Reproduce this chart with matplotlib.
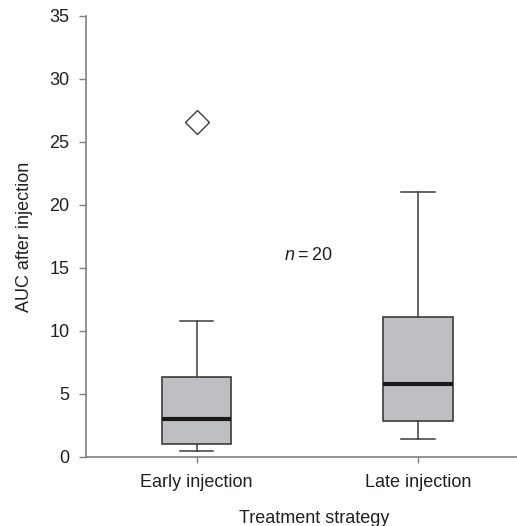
import matplotlib
matplotlib.use('Agg')
import matplotlib.pyplot as plt

plt.rcParams['font.family'] = ['Liberation Sans', 'DejaVu Sans']
plt.rcParams['mathtext.fontset'] = 'custom'
plt.rcParams['mathtext.it'] = 'Liberation Sans:italic'

# waarden
groups     = ['Early injection', 'Late injection']
medians    = [2.99, 5.79]
q1_values  = [1.00, 2.83]
q3_values  = [6.35, 11.11]
whis_low   = [0.48, 1.43]
whis_high  = [10.77, 21.06]
outliers   = [[26.56], []]
n_label    = 20

text_color = '#231f20'
axis_color = '#7f7f7f'

stats = []
for i in range(len(groups)):
    stats.append({'label': groups[i], 'med': medians[i], 'q1': q1_values[i], 'q3': q3_values[i],
                  'whislo': whis_low[i], 'whishi': whis_high[i], 'fliers': outliers[i]})

fig = plt.figure(figsize=(5.17, 5.26), dpi=100)
# de x-as loopt door tot voorbij de rechterrand van het plaatje
ax = fig.add_axes([0.1663, 0.1312, 0.882, 0.8384])

ax.bxp(stats, positions=[1, 2], widths=0.314, patch_artist=True, showfliers=True,
       boxprops=dict(facecolor='#bebfc3', edgecolor='#3c3c3c', linewidth=1.2),
       medianprops=dict(color='#1a1a1a', linewidth=3),
       whiskerprops=dict(color='#3c3c3c', linewidth=1.1),
       capprops=dict(color='#3c3c3c', linewidth=1.1),
       capwidths=0.15,
       flierprops=dict(marker='D', markersize=12, markerfacecolor='white',
                       markeredgecolor='#3c3c3c', markeredgewidth=1.0))

ax.set_xlim(0.5, 2.56)
ax.set_ylim(0, 35)
ax.set_yticks(range(0, 36, 5))

ax.text(1.505, 16.0, r'$n$' + '\u2009=\u2009' + str(n_label), fontsize=13, color=text_color,
        ha='center', va='center')

for s in ['top', 'right']:
    ax.spines[s].set_visible(False)
for s in ['left', 'bottom']:
    ax.spines[s].set_color(axis_color)
    ax.spines[s].set_linewidth(1.2)

ax.tick_params(axis='both', colors=axis_color, labelcolor=text_color, labelsize=13,
               direction='out', width=1.0)
ax.tick_params(axis='y', length=5, pad=7)
ax.tick_params(axis='x', length=4, pad=8)

ax.set_ylabel('AUC after injection', fontsize=13, color=text_color, labelpad=12)
ax.set_xlabel('Treatment strategy', fontsize=13, color=text_color, labelpad=14)

fig.savefig('out.png', dpi=100)
